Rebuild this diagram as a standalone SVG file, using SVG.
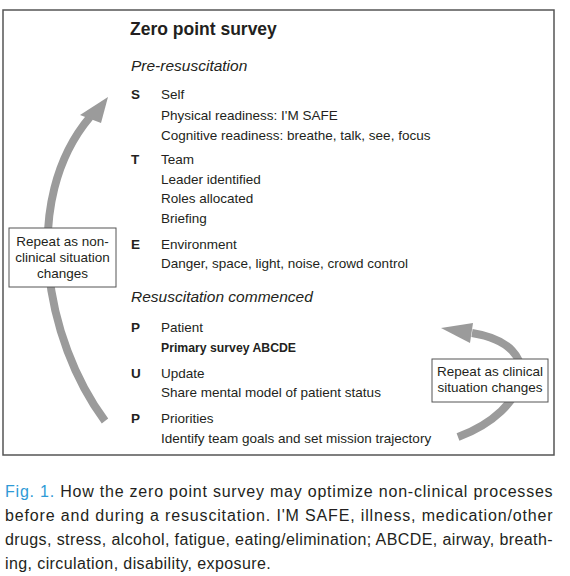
<svg xmlns="http://www.w3.org/2000/svg" width="570" height="576" viewBox="0 0 570 576">
<style>
text{font-family:"Liberation Sans",Arial,sans-serif;fill:#231f20}
.b{font-size:13.5px}
.k{font-size:13.5px;font-weight:bold}
.h{font-size:15.5px;font-style:italic}
.t{font-size:17.5px;font-weight:bold}
.bx{fill:#fff;stroke:#555;stroke-width:1}
.c{font-size:13.5px;text-anchor:middle}
.arc{fill:none;stroke:#9b9b9b;stroke-width:8}
.hd{fill:#9b9b9b}
.cap{font-size:16px;letter-spacing:0.4px}
</style>
<rect x="0" y="0" width="570" height="576" fill="#fff"/>
<rect id="frame" x="3" y="10" width="551" height="445" fill="#fff" stroke="#555" stroke-width="1.5"/>
<g id="connectors">
<path class="arc" d="M105 421 C45 340 20 200 90 117"/>
<polygon class="hd" points="108,97 80,115 101,123"/>
<path class="arc" d="M458 437 C530 410 548 345 472 333"/>
<polygon class="hd" points="441,328 473,323 470,343"/>
</g>
<g id="survey">
<text class="t" x="130" y="35">Zero point survey</text>
<text class="h" x="131" y="71">Pre-resuscitation</text>
<g id="S">
<text class="k" x="131" y="99">S</text>
<text class="b" x="161" y="99">Self</text>
<text class="b" x="161" y="120">Physical readiness: I'M SAFE</text>
<text class="b" x="161" y="140">Cognitive readiness: breathe, talk, see, focus</text>
</g>
<g id="T">
<text class="k" x="131" y="164">T</text>
<text class="b" x="161" y="164">Team</text>
<text class="b" x="161" y="184">Leader identified</text>
<text class="b" x="161" y="203">Roles allocated</text>
<text class="b" x="161" y="223">Briefing</text>
</g>
<g id="E">
<text class="k" x="131" y="249">E</text>
<text class="b" x="161" y="249">Environment</text>
<text class="b" x="161" y="268">Danger, space, light, noise, crowd control</text>
</g>
<text class="h" x="131" y="302">Resuscitation commenced</text>
<g id="P1">
<text class="k" x="131" y="332">P</text>
<text class="b" x="161" y="332">Patient</text>
<text class="k" x="161" y="352" textLength="135" lengthAdjust="spacingAndGlyphs">Primary survey ABCDE</text>
</g>
<g id="U">
<text class="k" x="131" y="378">U</text>
<text class="b" x="161" y="378">Update</text>
<text class="b" x="161" y="397">Share mental model of patient status</text>
</g>
<g id="P2">
<text class="k" x="131" y="423">P</text>
<text class="b" x="161" y="423">Priorities</text>
<text class="b" x="161" y="443">Identify team goals and set mission trajectory</text>
</g>
</g>
<g id="box-nonclinical">
<rect class="bx" x="9" y="228" width="107" height="59"/>
<text class="c" x="62.5" y="246">Repeat as non-</text>
<text class="c" x="62.5" y="262">clinical situation</text>
<text class="c" x="62.5" y="278">changes</text>
</g>
<g id="box-clinical">
<rect class="bx" x="432" y="359" width="116" height="43"/>
<text class="c" x="490" y="376">Repeat as clinical</text>
<text class="c" x="490" y="392">situation changes</text>
</g>
<g id="caption">
<text class="cap" x="5" y="497" textLength="548" lengthAdjust="spacing"><tspan fill="#2e9ad6">Fig. 1.</tspan> How the zero point survey may optimize non-clinical processes</text>
<text class="cap" x="5" y="521" textLength="548" lengthAdjust="spacing">before and during a resuscitation. I'M SAFE, illness, medication/other</text>
<text class="cap" x="5" y="545" textLength="548" lengthAdjust="spacing">drugs, stress, alcohol, fatigue, eating/elimination; ABCDE, airway, breath-</text>
<text class="cap" x="5" y="569">ing, circulation, disability, exposure.</text>
</g>
</svg>
